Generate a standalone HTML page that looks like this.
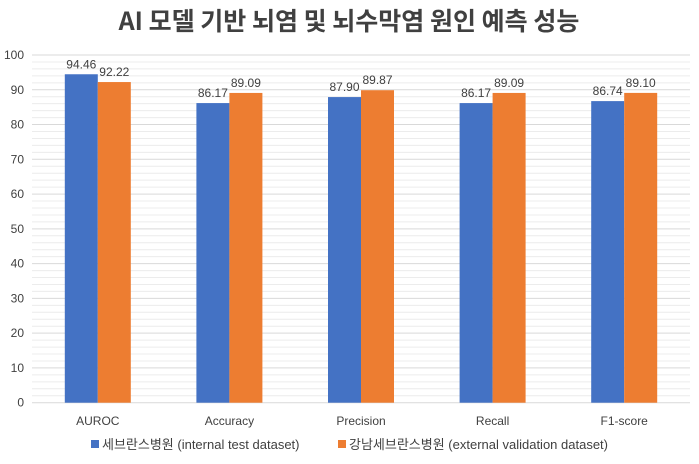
<!DOCTYPE html><html><head><meta charset="utf-8"><style>body{margin:0;background:#fff}</style></head><body>
<svg width="699" height="459" xmlns="http://www.w3.org/2000/svg" font-family="Liberation Sans, 'Noto Sans CJK KR', sans-serif">
<rect width="699" height="459" fill="#fff"/>
<text x="349" y="30" text-anchor="middle" font-size="25" font-weight="600" fill="#404040" font-family="'Noto Sans CJK KR', sans-serif">AI 모델 기반 뇌염 및 뇌수막염 원인 예측 성능</text>
<g id="grid"></g>
<g id="bars"></g>
<script>
var g=document.getElementById('grid'),b=document.getElementById('bars'),ns='http://www.w3.org/2000/svg';
function el(p,t,a,txt){var e=document.createElementNS(ns,t);for(var k in a)e.setAttribute(k,a[k]);if(txt!=null)e.textContent=txt;p.appendChild(e);return e;}
var y0=402.7,s=3.477,x0=32,x1=690;
for(var v=0;v<=100;v+=2){var y=y0-v*s;el(g,'line',{x1:x0,x2:x1,y1:y,y2:y,stroke:v%10==0?'#d9d9d9':'#ececec','stroke-width':1});
if(v%10==0)el(g,'text',{x:24,y:y+4,'text-anchor':'end','font-size':12,fill:'#404040'},v);}
var cats=['AUROC','Accuracy','Precision','Recall','F1-score'],a=[94.46,86.17,87.90,86.17,86.74],c=[92.22,89.09,89.87,89.09,89.10];
var cw=(x1-x0)/5;
for(var i=0;i<5;i++){var cx=x0+cw*(i+0.5);
el(b,'rect',{x:cx-33,y:y0-a[i]*s,width:33,height:a[i]*s,fill:'#4472c4'});
el(b,'rect',{x:cx,y:y0-c[i]*s,width:33,height:c[i]*s,fill:'#ed7d31'});
el(b,'text',{x:cx-16.5,y:y0-a[i]*s-6,'text-anchor':'middle','font-size':12,fill:'#404040'},a[i].toFixed(2));
el(b,'text',{x:cx+16.5,y:y0-c[i]*s-6,'text-anchor':'middle','font-size':12,fill:'#404040'},c[i].toFixed(2));
el(b,'text',{x:cx,y:425,'text-anchor':'middle','font-size':12,fill:'#404040'},cats[i]);}
</script>
<rect x="91" y="440" width="8" height="8" fill="#4472c4"/>
<text x="102" y="449" font-size="13" fill="#404040">세브란스병원 (internal test dataset)</text>
<rect x="338" y="440" width="8" height="8" fill="#ed7d31"/>
<text x="349" y="449" font-size="13" fill="#404040">강남세브란스병원 (external validation dataset)</text>
</svg></body></html>
